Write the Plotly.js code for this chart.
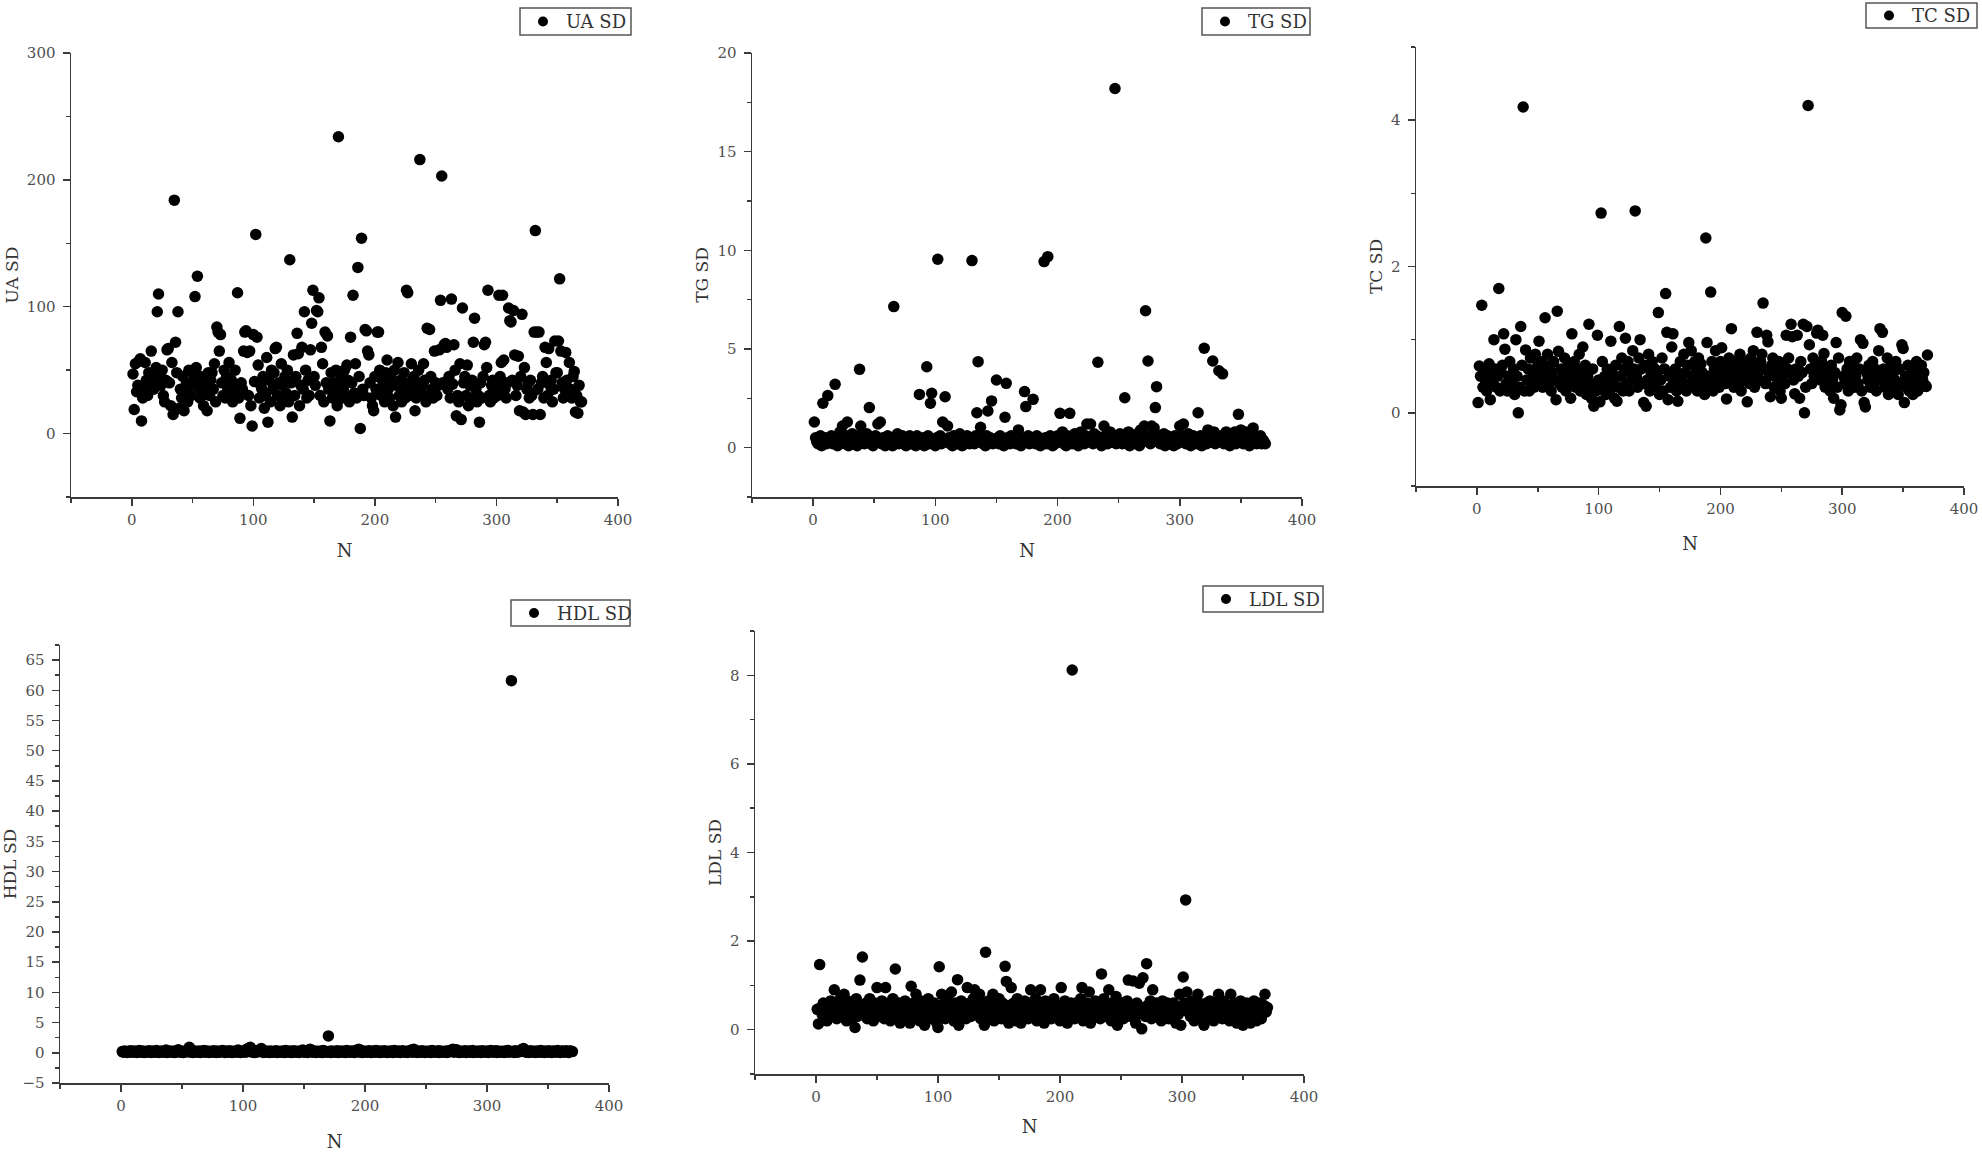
<!DOCTYPE html>
<html>
<head>
<meta charset="utf-8">
<script src="https://cdn.plot.ly/plotly-3.0.1.min.js"></script>
<style>
  html, body { margin: 0; padding: 0; background: #ffffff; }
  #chart { width: 1982px; height: 1152px; }
</style>
</head>
<body>
<div id="chart"></div>
<script>
// ---------------- DATA (N = 1 .. 370) ----------------
const seriesNames = ["UA SD", "TG SD", "TC SD", "HDL SD", "LDL SD"];
const xTickLabels = [0, 100, 200, 300, 400];

const uaSD = [
  47, 19, 55, 33, 38, 57, 59, 10, 28, 36,
  56, 42, 30, 48, 38, 65, 45, 35, 40, 52,
  96, 110, 44, 38, 50, 30, 25, 42, 66, 67,
  40, 22, 56, 15, 184, 72, 48, 96, 20, 35,
  28, 45, 18, 33, 40, 25, 50, 38, 30, 48,
  42, 108, 52, 124, 36, 28, 45, 30, 22, 40,
  35, 18, 48, 30, 42, 48, 35, 55, 25, 84,
  80, 65, 78, 40, 30, 50, 28, 45, 35, 56,
  32, 42, 25, 38, 50, 30, 111, 28, 12, 40,
  35, 65, 80, 81, 64, 30, 65, 22, 6, 78,
  41, 157, 76, 54, 28, 38, 35, 45, 20, 30,
  60, 9, 42, 25, 50, 35, 48, 67, 68, 30,
  40, 22, 55, 38, 28, 45, 32, 50, 25, 137,
  40, 13, 62, 30, 45, 79, 63, 22, 38, 68,
  35, 96, 50, 28, 42, 30, 66, 87, 113, 45,
  38, 97, 96, 107, 30, 68, 55, 25, 80, 40,
  77, 35, 10, 48, 28, 40, 32, 50, 22, 234,
  38, 45, 28, 35, 50, 30, 54, 42, 25, 76,
  40, 109, 32, 55, 28, 131, 45, 4, 154, 35,
  30, 82, 81, 65, 62, 40, 28, 22, 18, 45,
  35, 80, 80, 50, 30, 42, 38, 25, 48, 58,
  35, 28, 45, 40, 22, 50, 13, 38, 56, 30,
  42, 25, 35, 48, 28, 113, 111, 40, 30, 55,
  35, 45, 18, 28, 40, 50, 216, 32, 38, 55,
  42, 25, 83, 30, 82, 45, 35, 28, 65, 40,
  30, 38, 66, 105, 203, 40, 70, 71, 68, 35,
  45, 28, 106, 39, 70, 50, 14, 30, 25, 55,
  11, 99, 40, 45, 30, 54, 22, 38, 28, 42,
  72, 91, 35, 25, 30, 9, 40, 28, 45, 70,
  72, 52, 113, 30, 25, 38, 42, 28, 35, 40,
  30, 109, 45, 56, 109, 58, 35, 28, 40, 99,
  89, 88, 42, 97, 62, 30, 38, 61, 18, 45,
  94, 17, 52, 15, 35, 40, 28, 42, 30, 15,
  80, 160, 80, 35, 80, 15, 40, 45, 28, 68,
  56, 30, 67, 38, 42, 25, 35, 73, 48, 48,
  73, 122, 65, 40, 28, 35, 64, 42, 30, 56,
  35, 28, 45, 49, 17, 30, 16, 38, 25, 25
];

const tgSD = [
  1.3, 0.5, 0.3, 0.2, 0.4, 0.6, 0.1, 2.25, 0.3, 0.5,
  0.2, 2.64, 0.4, 0.3, 0.6, 0.2, 0.5, 3.21, 0.3, 0.1,
  0.4, 0.8, 0.3, 1.1, 0.5, 0.2, 0.6, 1.3, 0.1, 0.4,
  0.3, 0.7, 0.2, 0.5, 0.4, 0.1, 0.6, 3.97, 1.1, 0.3,
  0.5, 0.2, 0.4, 0.7, 0.3, 2.03, 0.2, 0.5, 0.1, 0.4,
  0.6, 0.3, 1.2, 0.4, 1.3, 0.2, 0.5, 0.3, 0.1, 0.4,
  0.6, 0.2, 0.3, 0.5, 0.1, 7.15, 0.4, 0.3, 0.7, 0.2,
  0.5, 0.3, 0.6, 0.2, 0.4, 0.1, 0.5, 0.3, 0.6, 0.2,
  0.4, 0.3, 0.5, 0.1, 0.6, 0.3, 2.7, 0.2, 0.4, 0.5,
  0.1, 0.3, 4.1, 0.6, 0.2, 2.25, 2.76, 0.4, 0.3, 0.1,
  0.5, 9.55, 0.3, 0.6, 0.2, 1.3, 0.4, 2.58, 0.3, 1.1,
  0.5, 0.2, 0.4, 0.1, 0.6, 0.3, 0.5, 0.2, 0.4, 0.7,
  0.3, 0.1, 0.5, 0.2, 0.4, 0.6, 0.3, 0.2, 0.5, 9.48,
  0.4, 0.2, 0.6, 1.77, 4.36, 0.3, 1.03, 0.5, 0.2, 0.4,
  0.1, 0.6, 1.86, 0.3, 0.5, 2.37, 0.2, 0.4, 0.3, 3.43,
  0.5, 0.2, 0.6, 0.3, 0.4, 0.1, 1.54, 3.26, 0.5, 0.3,
  0.2, 0.6, 0.4, 0.3, 0.5, 0.2, 0.4, 0.9, 0.3, 0.1,
  0.5, 0.4, 2.84, 2.08, 0.3, 0.6, 0.2, 0.5, 0.3, 2.45,
  0.4, 0.2, 0.6, 0.3, 0.5, 0.1, 0.4, 0.3, 9.43, 0.5,
  0.2, 9.68, 0.4, 0.6, 0.3, 0.1, 0.5, 0.2, 0.4, 0.6,
  0.3, 1.74, 0.5, 0.8, 0.2, 0.4, 0.1, 0.6, 0.3, 1.74,
  0.4, 0.2, 0.5, 0.7, 0.3, 0.6, 0.1, 0.4, 0.8, 0.3,
  0.5, 0.2, 0.6, 1.2, 0.4, 0.3, 1.2, 0.5, 0.2, 0.7,
  0.4, 0.6, 4.33, 0.3, 0.5, 0.1, 0.4, 1.1, 0.6, 0.3,
  0.2, 0.5, 0.8, 0.3, 0.4, 0.6, 18.2, 0.2, 0.5, 0.3,
  0.7, 0.4, 0.2, 0.6, 2.53, 0.3, 0.5, 0.8, 0.1, 0.4,
  0.6, 0.3, 0.5, 0.2, 0.7, 0.4, 0.1, 0.9, 0.5, 0.3,
  1.1, 6.94, 0.4, 4.39, 0.6, 0.2, 1.1, 0.5, 1.0, 2.03,
  3.09, 0.3, 0.6, 0.2, 0.5, 0.4, 0.7, 0.1, 0.3, 0.6,
  0.4, 0.2, 0.5, 0.3, 0.1, 0.6, 0.4, 0.2, 0.5, 1.1,
  0.3, 0.6, 1.2, 0.4, 0.2, 0.5, 0.7, 0.3, 0.1, 0.4,
  0.6, 0.3, 0.5, 0.2, 1.77, 0.4, 0.6, 0.1, 0.3, 5.04,
  0.5, 0.2, 0.9, 0.4, 0.6, 0.3, 4.39, 0.8, 0.2, 0.5,
  0.4, 3.9, 0.3, 0.6, 3.74, 0.2, 0.5, 0.8, 0.3, 0.4,
  0.1, 0.6, 0.3, 0.5, 0.8, 0.2, 0.4, 1.69, 0.3, 0.9,
  0.5, 0.2, 0.6, 0.8, 0.3, 0.4, 0.1, 0.5, 0.3, 1.0,
  0.4, 0.6, 0.2, 0.5, 0.3, 0.6, 0.2, 0.4, 0.3, 0.2
];

const tcSD = [
  0.14, 0.64, 0.5, 1.47, 0.35, 0.6, 0.45, 0.3, 0.55, 0.67,
  0.18, 0.4, 0.45, 1.0, 0.6, 0.35, 0.5, 1.7, 0.3, 0.55,
  0.65, 1.08, 0.87, 0.4, 0.3, 0.5, 0.7, 0.35, 0.45, 0.6,
  0.25, 1.0, 0.5, 0.0, 0.35, 1.18, 0.65, 4.18, 0.3, 0.86,
  0.45, 0.6, 0.3, 0.75, 0.4, 0.55, 0.35, 0.8, 0.5, 0.65,
  0.98, 0.45, 0.7, 0.35, 0.6, 1.3, 0.5, 0.8, 0.4, 0.65,
  0.3, 0.55, 0.7, 0.45, 0.18, 1.39, 0.84, 0.4, 0.6, 0.35,
  0.5, 0.75, 0.3, 0.55, 0.65, 0.4, 0.2, 1.08, 0.5, 0.7,
  0.35, 0.6, 0.45, 0.8, 0.3, 0.55, 0.9, 0.4, 0.65, 0.25,
  0.5, 1.21, 0.35, 0.2, 0.6, 0.09, 0.4, 0.3, 1.06, 0.45,
  0.15, 2.73, 0.7, 0.35, 0.5, 0.25, 0.6, 0.4, 0.3, 0.98,
  0.55, 0.45, 0.2, 0.65, 0.16, 0.35, 1.18, 0.5, 0.75, 0.3,
  0.6, 1.02, 0.4, 0.7, 0.3, 0.55, 0.45, 0.85, 0.6, 2.76,
  0.5, 0.35, 0.75, 1.0, 0.6, 0.4, 0.14, 0.65, 0.09, 0.45,
  0.8, 0.3, 0.55, 0.7, 0.4, 0.6, 0.35, 0.5, 1.37, 0.25,
  0.45, 0.75, 0.3, 0.6, 1.63, 1.1, 0.18, 0.5, 0.35, 0.9,
  1.08, 0.4, 0.6, 0.3, 0.16, 0.5, 0.7, 0.45, 0.35, 0.8,
  0.55, 0.3, 0.65, 0.96, 0.4, 0.85, 0.5, 0.35, 0.7, 0.6,
  0.3, 0.75, 0.45, 0.67, 0.55, 0.35, 0.25, 2.39, 0.96, 0.5,
  0.4, 1.65, 0.7, 0.3, 0.6, 0.85, 0.45, 0.55, 0.35, 0.7,
  0.89, 0.5, 0.65, 0.4, 0.19, 0.6, 0.75, 0.45, 1.15, 0.55,
  0.35, 0.7, 0.5, 0.6, 0.4, 0.8, 0.3, 0.65, 0.55, 0.45,
  0.7, 0.15, 0.6, 0.4, 0.75, 0.5, 0.85, 0.35, 0.65, 1.1,
  0.55, 0.45, 0.7, 0.8, 1.5, 0.6, 0.4, 1.06, 0.97, 0.5,
  0.22, 0.65, 0.75, 0.35, 0.55, 0.6, 0.45, 0.7, 0.3, 0.2,
  0.5, 0.65, 0.4, 1.06, 0.6, 0.75, 0.55, 1.21, 1.04, 0.45,
  0.26, 0.6, 1.06, 0.5, 0.2, 0.7, 0.55, 1.21, 0.0, 0.35,
  1.18, 4.2, 0.93, 0.6, 0.4, 0.75, 0.5, 0.65, 1.09, 1.13,
  0.55, 0.45, 0.7, 1.06, 0.81, 0.35, 0.6, 0.5, 0.4, 0.3,
  0.65, 0.45, 0.2, 0.55, 0.96, 0.35, 0.75, 0.04, 0.11, 1.37,
  0.5, 0.4, 1.32, 0.6, 0.3, 0.7, 0.45, 0.55, 0.65, 0.35,
  0.5, 0.75, 0.4, 0.6, 1.0, 0.3, 0.95, 0.14, 0.08, 0.55,
  0.45, 0.65, 0.35, 0.5, 0.7, 0.4, 0.6, 0.3, 0.55, 0.85,
  1.15, 0.45, 1.1, 0.6, 0.35, 0.5, 0.75, 0.25, 0.4, 0.65,
  0.3, 0.55, 0.45, 0.7, 0.35, 0.25, 0.6, 0.4, 0.93, 0.88,
  0.14, 0.5, 0.35, 0.65, 0.3, 0.45, 0.55, 0.25, 0.6, 0.4,
  0.7, 0.3, 0.5, 0.35, 0.65, 0.45, 0.55, 0.38, 0.36, 0.79
];

const hdlSD = [
  0.2, 0.1, 0.3, 0.15, 0.05, 0.25, 0.1, 0.35, 0.2, 0.1,
  0.3, 0.15, 0.05, 0.25, 0.4, 0.1, 0.2, 0.3, 0.05, 0.15,
  0.25, 0.1, 0.35, 0.2, 0.05, 0.3, 0.15, 0.1, 0.4, 0.2,
  0.05, 0.25, 0.15, 0.3, 0.1, 0.2, 0.45, 0.05, 0.25, 0.15,
  0.3, 0.1, 0.2, 0.05, 0.35, 0.15, 0.5, 0.25, 0.1, 0.2,
  0.05, 0.3, 0.15, 0.4, 0.2, 0.9, 0.1, 0.25, 0.05, 0.35,
  0.15, 0.2, 0.1, 0.3, 0.05, 0.25, 0.15, 0.4, 0.1, 0.2,
  0.3, 0.05, 0.15, 0.25, 0.1, 0.35, 0.2, 0.05, 0.3, 0.15,
  0.1, 0.25, 0.4, 0.2, 0.05, 0.3, 0.15, 0.1, 0.35, 0.2,
  0.05, 0.25, 0.15, 0.3, 0.1, 0.45, 0.2, 0.05, 0.25, 0.15,
  0.3, 0.1, 0.6, 0.2, 0.8, 0.9, 0.15, 0.4, 0.05, 0.25,
  0.1, 0.3, 0.2, 0.5, 0.7, 0.15, 0.05, 0.35, 0.2, 0.1,
  0.25, 0.05, 0.3, 0.15, 0.1, 0.2, 0.35, 0.05, 0.25, 0.15,
  0.1, 0.3, 0.2, 0.05, 0.4, 0.15, 0.25, 0.1, 0.3, 0.05,
  0.2, 0.35, 0.15, 0.1, 0.25, 0.05, 0.3, 0.2, 0.45, 0.1,
  0.15, 0.25, 0.05, 0.3, 0.6, 0.2, 0.1, 0.35, 0.15, 0.05,
  0.25, 0.2, 0.1, 0.3, 0.05, 0.4, 0.15, 0.2, 0.1, 2.8,
  0.25, 0.05, 0.3, 0.15, 0.2, 0.1, 0.35, 0.05, 0.25, 0.15,
  0.3, 0.1, 0.2, 0.05, 0.4, 0.15, 0.25, 0.1, 0.3, 0.2,
  0.05, 0.35, 0.15, 0.5, 0.6, 0.1, 0.25, 0.05, 0.3, 0.2,
  0.15, 0.1, 0.35, 0.25, 0.05, 0.3, 0.2, 0.1, 0.4, 0.15,
  0.25, 0.05, 0.3, 0.1, 0.2, 0.35, 0.15, 0.05, 0.25, 0.1,
  0.3, 0.2, 0.05, 0.4, 0.15, 0.25, 0.1, 0.3, 0.05, 0.2,
  0.35, 0.15, 0.1, 0.25, 0.05, 0.3, 0.2, 0.45, 0.1, 0.6,
  0.15, 0.25, 0.05, 0.3, 0.2, 0.1, 0.35, 0.15, 0.05, 0.25,
  0.2, 0.1, 0.3, 0.05, 0.4, 0.15, 0.25, 0.1, 0.2, 0.35,
  0.05, 0.3, 0.15, 0.1, 0.25, 0.2, 0.05, 0.35, 0.15, 0.3,
  0.45, 0.6, 0.1, 0.25, 0.5, 0.2, 0.05, 0.3, 0.15, 0.1,
  0.25, 0.35, 0.05, 0.2, 0.3, 0.1, 0.15, 0.4, 0.05, 0.25,
  0.2, 0.1, 0.3, 0.15, 0.05, 0.35, 0.25, 0.1, 0.2, 0.3,
  0.05, 0.15, 0.4, 0.25, 0.1, 0.2, 0.35, 0.05, 0.3, 0.15,
  0.1, 0.25, 0.2, 0.05, 0.3, 0.15, 0.4, 0.1, 0.25, 61.6,
  0.2, 0.05, 0.35, 0.15, 0.1, 0.3, 0.2, 0.45, 0.6, 0.7,
  0.25, 0.1, 0.3, 0.05, 0.2, 0.35, 0.15, 0.1, 0.25, 0.05,
  0.3, 0.2, 0.1, 0.4, 0.15, 0.25, 0.05, 0.3, 0.2, 0.1,
  0.35, 0.15, 0.05, 0.25, 0.3, 0.1, 0.2, 0.4, 0.15, 0.05,
  0.25, 0.3, 0.1, 0.2, 0.35, 0.15, 0.05, 0.3, 0.25, 0.2
];

const ldlSD = [
  0.46, 0.13, 1.47, 0.5, 0.35, 0.6, 0.3, 0.45, 0.2, 0.55,
  0.4, 0.65, 0.3, 0.5, 0.9, 0.35, 0.25, 0.6, 0.45, 0.7,
  0.3, 0.55, 0.8, 0.4, 0.2, 0.65, 0.35, 0.5, 0.6, 0.25,
  0.45, 0.05, 0.7, 0.3, 0.55, 1.12, 0.4, 1.64, 0.5, 0.35,
  0.6, 0.25, 0.45, 0.7, 0.3, 0.5, 0.2, 0.6, 0.4, 0.95,
  0.35, 0.55, 0.3, 0.65, 0.45, 0.25, 0.95, 0.5, 0.35, 0.6,
  0.2, 0.45, 0.7, 0.35, 1.37, 0.5, 0.3, 0.6, 0.15, 0.45,
  0.55, 0.35, 0.65, 0.25, 0.5, 0.4, 0.15, 0.98, 0.3, 0.6,
  0.45, 0.8, 0.35, 0.55, 0.2, 0.65, 0.4, 0.5, 0.1, 0.6,
  0.35, 0.7, 0.45, 0.25, 0.55, 0.3, 0.6, 0.4, 0.15, 0.05,
  1.42, 0.5, 0.8, 0.35, 0.6, 0.25, 0.45, 0.7, 0.3, 0.55,
  0.85, 0.4, 0.2, 0.6, 0.35, 1.13, 0.1, 0.5, 0.65, 0.3,
  0.45, 0.55, 0.25, 0.95, 0.4, 0.6, 0.3, 0.5, 0.7, 0.9,
  0.35, 0.55, 0.45, 0.8, 0.25, 0.6, 0.4, 0.1, 1.75, 0.5,
  0.65, 0.3, 0.55, 0.4, 0.8, 0.2, 0.6, 0.45, 0.35, 0.7,
  0.5, 0.25, 0.6, 0.35, 1.43, 1.09, 0.45, 0.15, 0.55, 0.95,
  0.3, 0.6, 0.4, 0.2, 0.7, 0.5, 0.35, 0.15, 0.55, 0.45,
  0.65, 0.3, 0.5, 0.25, 0.6, 0.9, 0.4, 0.55, 0.35, 0.7,
  0.2, 0.45, 0.6, 0.9, 0.3, 0.5, 0.15, 0.65, 0.4, 0.55,
  0.35, 0.6, 0.25, 0.5, 0.7, 0.4, 0.3, 0.55, 0.45, 0.2,
  0.95, 0.5, 0.35, 0.65, 0.4, 0.15, 0.55, 0.3, 0.6, 8.12,
  0.45, 0.25, 0.6, 0.4, 0.55, 0.3, 0.7, 0.95, 0.2, 0.5,
  0.35, 0.6, 0.45, 0.85, 0.15, 0.55, 0.4, 0.3, 0.65, 0.5,
  0.35, 0.6, 0.25, 1.26, 0.45, 0.7, 0.3, 0.55, 0.4, 0.9,
  0.5, 0.2, 0.6, 0.35, 0.45, 0.75, 0.1, 0.55, 0.3, 0.4,
  0.6, 0.25, 0.5, 0.35, 0.65, 1.12, 0.45, 0.3, 0.55, 1.1,
  0.4, 0.15, 0.6, 0.35, 1.05, 0.5, 0.02, 1.17, 0.45, 0.3,
  1.49, 0.55, 0.4, 0.65, 0.25, 0.9, 0.5, 0.35, 0.6, 0.45,
  0.3, 0.55, 0.2, 0.65, 0.4, 0.5, 0.35, 0.6, 0.25, 0.45,
  0.55, 0.3, 0.6, 0.4, 0.15, 0.5, 0.35, 0.8, 0.1, 0.45,
  1.19, 0.6, 2.93, 0.85, 0.4, 0.55, 0.3, 0.65, 0.45, 0.2,
  0.5, 0.35, 0.8, 0.6, 0.25, 0.45, 0.55, 0.1, 0.4, 0.6,
  0.3, 0.5, 0.65, 0.35, 0.45, 0.2, 0.55, 0.4, 0.6, 0.8,
  0.35, 0.5, 0.25, 0.65, 0.45, 0.3, 0.55, 0.4, 0.2, 0.8,
  0.5, 0.35, 0.6, 0.45, 0.15, 0.55, 0.3, 0.65, 0.4, 0.1,
  0.5, 0.25, 0.6, 0.35, 0.45, 0.15, 0.55, 0.3, 0.65, 0.4,
  0.2, 0.5, 0.35, 0.6, 0.25, 0.45, 0.55, 0.8, 0.4, 0.5
];

// ---------------- LAYOUT (pixel geometry of the 1982x1152 picture) ----------------
const W = 1982, H = 1152;
const FONT = "DejaVu Serif, Liberation Serif, serif";
const AXC = "#3a3a3a";

function xd(a, b) { return [a / W, b / W]; }
function yd(top, bottom) { return [1 - bottom / H, 1 - top / H]; }
function px(v) { return v / W; }
function py(v) { return 1 - v / H; }

// leg: [left, top, right, bottom] of the legend box in pixels; ns: x-title standoff
const panels = [
  { y: uaSD,  name: seriesNames[0], xdom: xd(71, 618),    ydom: yd(53, 497),   yr: [-50, 300], dt: 100, mdt: 50,  leg: [520, 8, 631, 35],      ns: 17 },
  { y: tgSD,  name: seriesNames[1], xdom: xd(752, 1302),  ydom: yd(53, 497),   yr: [-2.5, 20], dt: 5,   mdt: 2.5, leg: [1202, 8, 1310, 35],    ns: 17 },
  { y: tcSD,  name: seriesNames[2], xdom: xd(1416, 1964), ydom: yd(47, 486),   yr: [-1, 5],    dt: 2,   mdt: 1,   leg: [1866, 3, 1977, 28],    ns: 21 },
  { y: hdlSD, name: seriesNames[3], xdom: xd(60, 609),    ydom: yd(645, 1083), yr: [-5, 67.5], dt: 5,   mdt: 2.5, leg: [511, 600, 630, 626],   ns: 22 },
  { y: ldlSD, name: seriesNames[4], xdom: xd(755, 1304),  ydom: yd(631, 1074), yr: [-1, 9],    dt: 2,   mdt: 1,   leg: [1203, 586, 1323, 612], ns: 16 }
];

const data = [];
const shapes = [];
const annotations = [];
const layout = {
  width: W, height: H,
  margin: { l: 0, r: 0, t: 0, b: 0, pad: 0 },
  paper_bgcolor: "#ffffff",
  plot_bgcolor: "#ffffff",
  font: { family: FONT, color: "#444" },
  showlegend: false
};

function axisBase() {
  return {
    showline: true, linecolor: AXC, linewidth: 1.5,
    ticks: "outside", ticklen: 7, tickwidth: 1.5, tickcolor: AXC,
    showgrid: false, zeroline: false, fixedrange: true,
    tickfont: { family: FONT, size: 15, color: "#505050" }
  };
}

panels.forEach((p, i) => {
  const k = i === 0 ? "" : String(i + 1);
  data.push({
    type: "scatter", mode: "markers",
    x0: 1, dx: 1, y: p.y,
    name: p.name,
    xaxis: "x" + k, yaxis: "y" + k,
    marker: { color: "#000000", size: 11.5, symbol: "circle" },
    hoverinfo: "x+y"
  });

  layout["xaxis" + k] = Object.assign(axisBase(), {
    domain: p.xdom, anchor: "y" + k,
    range: [-50, 400], tickmode: "array", tickvals: xTickLabels,
    ticklabelstandoff: 1,
    minor: { tickmode: "linear", tick0: -50, dtick: 50, ticks: "outside", ticklen: 4, tickwidth: 1.5, tickcolor: AXC, showgrid: false },
    title: { text: "N", font: { family: FONT, size: 18, color: "#333" }, standoff: p.ns }
  });
  layout["yaxis" + k] = Object.assign(axisBase(), {
    domain: p.ydom, anchor: "x" + k,
    range: p.yr, tick0: 0, dtick: p.dt,
    ticklabelstandoff: 4,
    minor: { dtick: p.mdt, ticks: "outside", ticklen: 4, tickwidth: 1.5, tickcolor: AXC, showgrid: false },
    title: { text: p.name, font: { family: FONT, size: 17, color: "#333" }, standoff: 4 }
  });

  // legend box (frame, symbol, label)
  const [l, t, r, b] = p.leg;
  const cy = (t + b) / 2;
  shapes.push({
    type: "rect", xref: "paper", yref: "paper",
    x0: px(l), x1: px(r), y0: py(b), y1: py(t),
    line: { color: "#555", width: 1.5 }, fillcolor: "#ffffff", layer: "above"
  });
  shapes.push({
    type: "circle", xref: "paper", yref: "paper",
    xsizemode: "pixel", ysizemode: "pixel",
    xanchor: px(l + 23), yanchor: py(cy),
    x0: -5, x1: 5, y0: -5, y1: 5,
    line: { width: 0 }, fillcolor: "#000000", layer: "above"
  });
  annotations.push({
    xref: "paper", yref: "paper",
    x: px(l + 44), y: py(cy), xanchor: "left", yanchor: "middle",
    text: p.name, showarrow: false,
    font: { family: FONT, size: 18, color: "#333" }
  });
});

layout.shapes = shapes;
layout.annotations = annotations;

Plotly.newPlot("chart", data, layout, { staticPlot: true, displayModeBar: false });
</script>
</body>
</html>
